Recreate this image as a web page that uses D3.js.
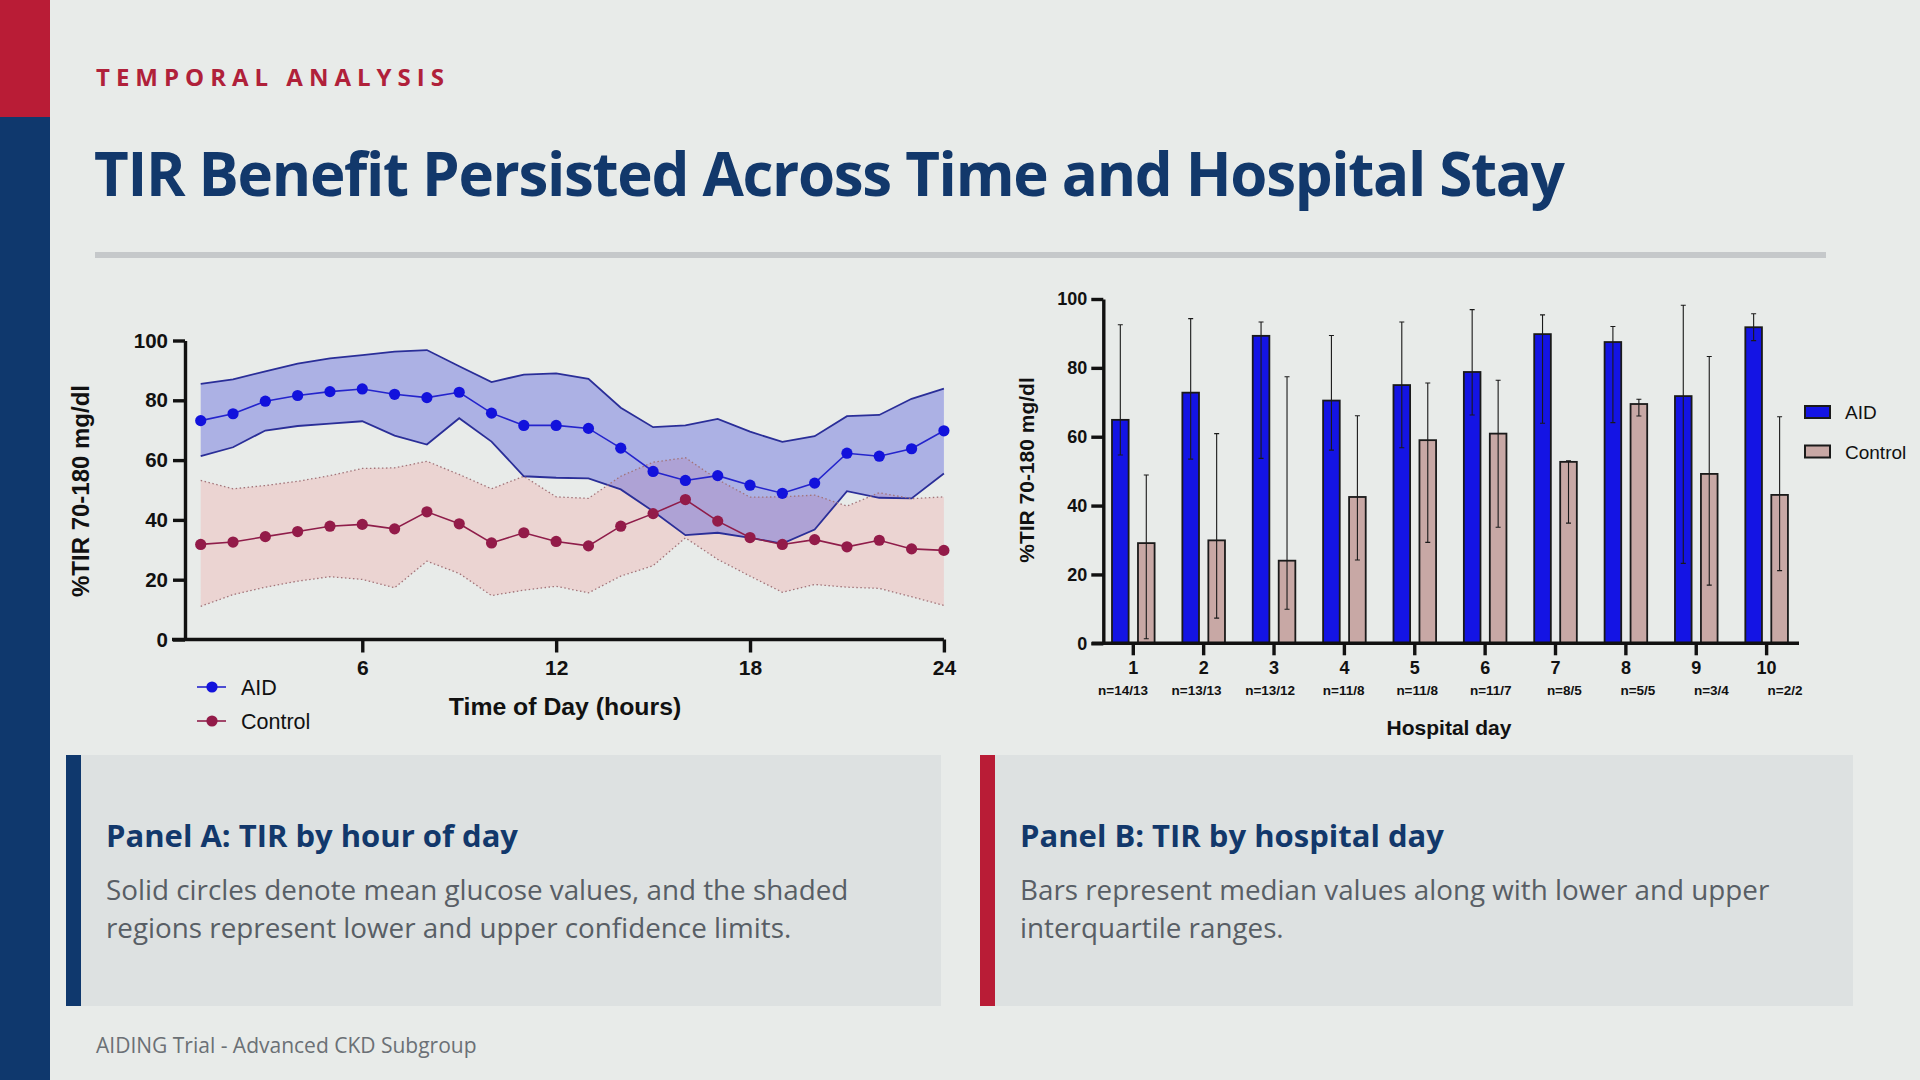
<!DOCTYPE html>
<html>
<head>
<meta charset="UTF-8">
<title>TIR Benefit Persisted Across Time and Hospital Stay</title>
<script src="https://cdn.jsdelivr.net/npm/d3@7/dist/d3.min.js"></script>
<style>
  body { margin: 0; background: #e8ebe9; }
  svg { display: block; }
  .slide { font-family: "Open Sans", "Noto Sans", sans-serif; }
  .chart text { font-family: "Liberation Sans", Arial, sans-serif; }
</style>
</head>
<body>
<svg id="slide" width="1920" height="1080"></svg>
<script>
// ---- Panel A: TIR by hour of day ----
var hours = d3.range(1, 25);
var aidMean  = [73.2,75.5,79.7,81.6,82.9,83.8,82.0,80.9,82.7,75.7,71.6,71.6,70.6,64.0,56.2,53.2,54.8,51.6,48.9,52.3,62.3,61.3,63.8,69.8];
var aidUpper = [85.5,87.0,89.7,92.3,94.0,95.1,96.3,96.8,91.4,86.1,88.6,89.0,87.2,77.5,71.0,71.6,73.8,69.5,66.1,68.0,74.7,75.1,80.5,83.9];
var aidLower = [61.3,64.3,69.9,71.4,72.2,73.0,68.2,65.2,74.0,66.2,54.6,54.1,53.9,50.2,42.9,34.9,35.7,34.0,32.1,36.8,49.6,47.4,47.2,55.5];
var ctlMean  = [31.8,32.6,34.4,36.1,37.9,38.5,37.0,42.7,38.7,32.3,35.7,32.8,31.3,37.9,42.1,46.8,39.6,34.1,31.8,33.4,31.0,33.2,30.3,29.8];
var ctlUpper = [53.2,50.4,51.5,52.9,54.8,57.2,57.4,59.6,55.2,50.4,54.6,47.7,47.2,54.6,59.3,60.8,53.5,47.6,47.7,48.3,44.6,49.1,47.1,47.7];
var ctlLower = [11.1,15.0,17.5,19.5,21.0,20.1,17.3,26.2,22.1,14.7,16.5,17.8,15.6,21.2,24.7,34.0,26.8,21.2,15.8,18.4,17.5,17.1,14.3,11.4];
var hourTicks = [6, 12, 18, 24];

// ---- Panel B: TIR by hospital day ----
var days = [1,2,3,4,5,6,7,8,9,10];
var dayN = ['n=14/13','n=13/13','n=13/12','n=11/8','n=11/8','n=11/7','n=8/5','n=5/5','n=3/4','n=2/2'];
var groups = ['AID', 'Control'];
var aidMedian = [64.9,72.8,89.3,70.5,75.0,78.8,89.8,87.5,71.8,91.8];
var aidQ1     = [54.7,53.5,53.7,56.1,56.8,66.3,63.9,64.1,23.2,87.9];
var aidQ3     = [92.5,94.3,93.3,89.4,93.3,96.9,95.4,92.0,98.2,95.7];
var ctlMedian = [29.1,29.9,24.0,42.5,59.0,60.9,52.7,69.5,49.2,43.1];
var ctlQ1     = [1.3,7.3,9.9,24.2,29.3,33.7,34.9,66.0,16.9,21.1];
var ctlQ3     = [48.9,60.9,77.4,66.1,75.6,76.4,53.0,70.9,83.3,65.8];
var yTicks = [0, 20, 40, 60, 80, 100];

var navy = '#0f386d', red = '#b91c36';
var svg = d3.select('#slide');

// ---------- slide frame ----------
var frame = svg.append('g').attr('class', 'slide');
frame.append('rect').attr('width', 1920).attr('height', 1080).attr('fill', '#e8ebe9');
frame.append('rect').attr('x', 0).attr('y', 0).attr('width', 50).attr('height', 117).attr('fill', red);
frame.append('rect').attr('x', 0).attr('y', 117).attr('width', 50).attr('height', 963).attr('fill', navy);

frame.append('text').attr('x', 96).attr('y', 86)
    .style('font-size', '24px').style('font-weight', 700).style('letter-spacing', '6px')
    .attr('fill', '#b0213a').text('TEMPORAL ANALYSIS');
frame.append('text').attr('x', 94).attr('y', 196)
    .style('font-size', '60px').style('font-weight', 700).style('letter-spacing', '-1.3px')
    .attr('fill', '#12386b').text('TIR Benefit Persisted Across Time and Hospital Stay');
frame.append('rect').attr('x', 95).attr('y', 252).attr('width', 1731).attr('height', 6).attr('fill', '#c5c8ca');

var panels = [
    {x: 66, w: 875, color: navy, title: 'Panel A: TIR by hour of day',
     lines: ['Solid circles denote mean glucose values, and the shaded', 'regions represent lower and upper confidence limits.']},
    {x: 980, w: 873, color: red, title: 'Panel B: TIR by hospital day',
     lines: ['Bars represent median values along with lower and upper', 'interquartile ranges.']}
];
panels.forEach(function(p) {
    frame.append('rect').attr('x', p.x).attr('y', 755).attr('width', p.w).attr('height', 251).attr('fill', '#dde1e1');
    frame.append('rect').attr('x', p.x).attr('y', 755).attr('width', 15).attr('height', 251).attr('fill', p.color);
    frame.append('text').attr('x', p.x + 40).attr('y', 847)
        .style('font-size', '31px').style('font-weight', 700).attr('fill', '#12386b').text(p.title);
    p.lines.forEach(function(l, i) {
        frame.append('text').attr('x', p.x + 40).attr('y', 900 + i * 38)
            .style('font-size', '27.8px').attr('fill', '#585e65').text(l);
    });
});
frame.append('text').attr('x', 96).attr('y', 1053)
    .style('font-size', '21px').attr('fill', '#6b7075').text('AIDING Trial - Advanced CKD Subgroup');

// ---------- Panel A chart ----------
var gA = svg.append('g').attr('class', 'chart');
var xA = d3.scaleLinear().domain([0, 24]).range([168.4, 943.9]);
var yA = d3.scaleLinear().domain([0, 100]).range([639.5, 340.5]);

var area = function(lo, hi) {
    return d3.area().x(function(d, i) { return xA(hours[i]); })
        .y0(function(d, i) { return yA(lo[i]); })
        .y1(function(d, i) { return yA(hi[i]); })(hours);
};
var edge = function(vals) {
    return d3.line().x(function(d, i) { return xA(hours[i]); })
        .y(function(d) { return yA(d); })(vals);
};

gA.append('path').attr('d', area(ctlLower, ctlUpper)).attr('fill', 'rgb(240,168,168)').attr('fill-opacity', 0.35);
gA.append('path').attr('d', area(aidLower, aidUpper)).attr('fill', 'rgb(60,70,220)').attr('fill-opacity', 0.35);
[aidUpper, aidLower].forEach(function(v) {
    gA.append('path').attr('d', edge(v)).attr('fill', 'none').attr('stroke', '#2a2e98').attr('stroke-width', 1.8);
});
[ctlUpper, ctlLower].forEach(function(v) {
    gA.append('path').attr('d', edge(v)).attr('fill', 'none').attr('stroke', '#a27479')
        .attr('stroke-width', 1.3).attr('stroke-dasharray', '1.5,2.5');
});

var series = [
    {name: 'AID', vals: aidMean, line: '#2424cc', dot: '#1212dc'},
    {name: 'Control', vals: ctlMean, line: '#8f1d4a', dot: '#931b49'}
];
series.forEach(function(s) {
    gA.append('path').attr('d', edge(s.vals)).attr('fill', 'none').attr('stroke', s.line).attr('stroke-width', 1.6);
    gA.selectAll(null).data(s.vals).enter().append('circle')
        .attr('cx', function(d, i) { return xA(hours[i]); })
        .attr('cy', function(d) { return yA(d); })
        .attr('r', 5.6).attr('fill', s.dot);
});

var axA = gA.append('g').attr('transform', 'translate(185,0)')
    .call(d3.axisLeft(yA).tickValues(yTicks).tickSize(12).tickSizeOuter(0).tickPadding(5));
var axAx = gA.append('g').attr('transform', 'translate(0,' + yA(0) + ')')
    .call(d3.axisBottom(xA).tickValues(hourTicks).tickSize(13).tickSizeOuter(0).tickPadding(8));
[axA, axAx].forEach(function(a) {
    a.select('.domain').attr('stroke', '#111').attr('stroke-width', 3.4);
    a.selectAll('.tick line').attr('stroke', '#111').attr('stroke-width', 3.4);
    a.selectAll('.tick text').attr('fill', '#111').style('font-weight', 700);
});
axA.selectAll('.tick text').style('font-size', '20.5px');
axAx.selectAll('.tick text').style('font-size', '21px');
axAx.select('.domain').attr('d', 'M172,0H' + xA(24));

gA.append('text').attr('transform', 'translate(89,491) rotate(-90)').attr('text-anchor', 'middle')
    .style('font-size', '24px').style('font-weight', 700).attr('fill', '#111').text('%TIR 70-180 mg/dl');
gA.append('text').attr('x', 565).attr('y', 715).attr('text-anchor', 'middle')
    .style('font-size', '24.8px').style('font-weight', 700).attr('fill', '#111').text('Time of Day (hours)');

series.forEach(function(s, i) {
    var ly = 687 + i * 34;
    gA.append('line').attr('x1', 197).attr('x2', 226).attr('y1', ly).attr('y2', ly).attr('stroke', s.line).attr('stroke-width', 1.6);
    gA.append('circle').attr('cx', 212).attr('cy', ly).attr('r', 5.6).attr('fill', s.dot);
    gA.append('text').attr('x', 241).attr('y', ly + 7.5).style('font-size', '21.5px').attr('fill', '#111').text(s.name);
});

// ---------- Panel B chart ----------
var gB = svg.append('g').attr('class', 'chart');
var xB = d3.scaleBand().domain(days).range([1098.1, 1801.8]);
var xSub = d3.scaleBand().domain(groups).range([13.9, 56.5]).paddingInner(0.36);
var xN = d3.scalePoint().domain(days).range([1123, 1785]);
var yB = d3.scaleLinear().domain([0, 100]).range([643.3, 299]);

var barData = [
    {name: 'AID', med: aidMedian, lo: aidQ1, hi: aidQ3, fill: '#1414e4'},
    {name: 'Control', med: ctlMedian, lo: ctlQ1, hi: ctlQ3, fill: '#c8a8a5'}
];
barData.forEach(function(s) {
    var g = gB.append('g').attr('transform', 'translate(' + xSub(s.name) + ',0)');
    g.selectAll(null).data(days).enter().append('rect')
        .attr('x', function(d) { return xB(d); })
        .attr('y', function(d, i) { return yB(s.med[i]); })
        .attr('width', xSub.bandwidth())
        .attr('height', function(d, i) { return yB(0) - yB(s.med[i]); })
        .attr('fill', s.fill).attr('stroke', '#1a1a1a').attr('stroke-width', 1.8);
    var cx = function(d) { return xB(d) + xSub.bandwidth() / 2; };
    g.selectAll(null).data(days).enter().append('path')
        .attr('d', function(d, i) {
            var x = cx(d), t = yB(s.hi[i]), b = yB(s.lo[i]);
            return 'M' + x + ',' + t + 'V' + b + 'M' + (x - 2.5) + ',' + t + 'H' + (x + 2.5) +
                'M' + (x - 2.5) + ',' + b + 'H' + (x + 2.5);
        })
        .attr('fill', 'none').attr('stroke', '#1a1a1a').attr('stroke-width', 1.1);
});

var axB = gB.append('g').attr('transform', 'translate(1103.3,0)')
    .call(d3.axisLeft(yB).tickValues(yTicks).tickSize(12).tickSizeOuter(0).tickPadding(4));
var axBx = gB.append('g').attr('transform', 'translate(0,' + yB(0) + ')')
    .call(d3.axisBottom(xB).tickSize(12).tickSizeOuter(0).tickPadding(6));
[axB, axBx].forEach(function(a) {
    a.select('.domain').attr('stroke', '#111').attr('stroke-width', 3.4);
    a.selectAll('.tick line').attr('stroke', '#111').attr('stroke-width', 3.4);
    a.selectAll('.tick text').attr('fill', '#111').style('font-weight', 700).style('font-size', '18px');
});
axBx.select('.domain').attr('d', 'M1091.7,0H1799');
gB.selectAll(null).data(days).enter().append('text')
    .attr('x', function(d) { return xN(d); }).attr('y', 695).attr('text-anchor', 'middle')
    .attr('fill', '#111').style('font-size', '13.5px').style('font-weight', 700)
    .text(function(d, i) { return dayN[i]; });

gB.append('text').attr('transform', 'translate(1034,470) rotate(-90)').attr('text-anchor', 'middle')
    .style('font-size', '21px').style('font-weight', 700).attr('fill', '#111').text('%TIR 70-180 mg/dl');
gB.append('text').attr('x', 1449).attr('y', 735).attr('text-anchor', 'middle')
    .style('font-size', '21px').style('font-weight', 700).attr('fill', '#111').text('Hospital day');

barData.forEach(function(s, i) {
    var ly = 406 + i * 39.5;
    gB.append('rect').attr('x', 1805).attr('y', ly).attr('width', 25).attr('height', 12)
        .attr('fill', s.fill).attr('stroke', '#1a1a1a').attr('stroke-width', 2);
    gB.append('text').attr('x', 1845).attr('y', ly + 13).style('font-size', '19px').attr('fill', '#111').text(s.name);
});
</script>
</body>
</html>
